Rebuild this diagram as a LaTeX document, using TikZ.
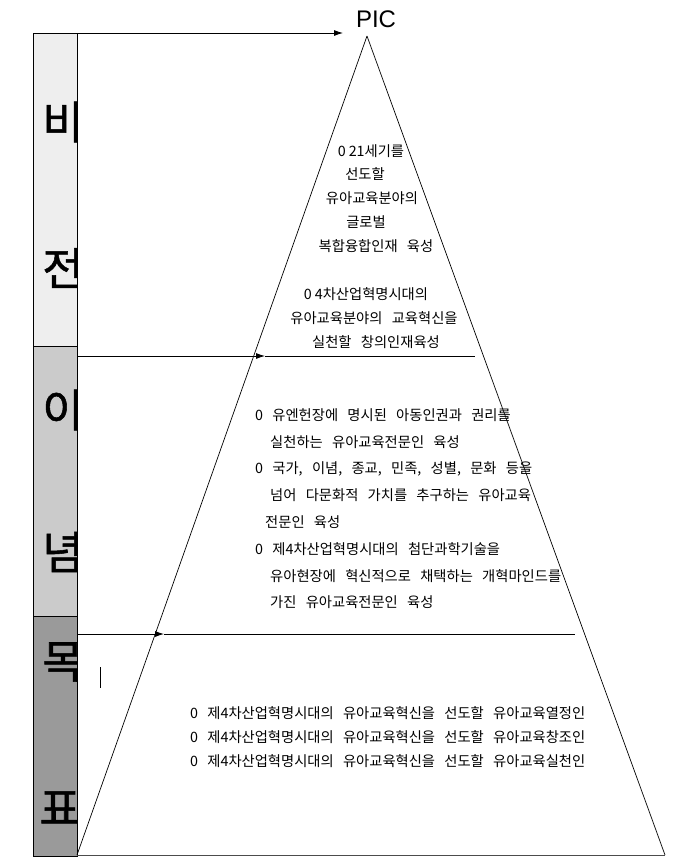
\documentclass[tikz,border=0pt]{standalone}
\usepackage{fontspec}
\setmainfont{Noto Sans CJK KR}[WordSpace={2.9,0,0}]
\newfontfamily\bigfont{Noto Sans CJK KR}[FakeBold=1.2]
\newfontfamily\picfont{Liberation Sans}
\usetikzlibrary{arrows.meta}
\definecolor{visfill}{HTML}{EEEEEE}
\definecolor{idefill}{HTML}{CBCBCB}
\definecolor{goalfill}{HTML}{9A9A9A}
\newcommand{\zgap}{\hspace{3pt}}
\tikzset{
  bigchar/.style={font=\bigfont\fontsize{45}{45}\selectfont, inner sep=0pt},
  txt/.style={font=\fontsize{14.3}{16}\selectfont, inner sep=0pt},
  txtl/.style={txt, anchor=west},
  conn/.style={line width=0.8pt, -{Latex[length=9pt,width=6pt]}},
  plain/.style={line width=0.8pt},
}
\begin{document}
\begin{tikzpicture}[x=1pt,y=-1pt]
\useasboundingbox (0,0) rectangle (686,865);
% left bar
\fill[visfill] (33,33) rectangle (77,346);
\fill[idefill] (33,346) rectangle (77,616);
\fill[goalfill] (33,616) rectangle (77,856);
\begin{scope}
\clip (33,33) rectangle (77,856);
\node[bigchar] (b1) at (63,122) {비};
\node[bigchar] (b2) at (63,268) {전};
\node[bigchar] (b3) at (63,410) {이};
\node[bigchar] (b4) at (63,552) {념};
\node[bigchar] (b5) at (63,662) {목};
\node[bigchar] (b6) at (60,808) {표};
\end{scope}
\draw[plain] (33,33) rectangle (77,856);
\draw[plain] (33,346) -- (77,346);
\draw[plain] (33,616) -- (77,616);
% pyramid
\coordinate (apex) at (367,36);
\coordinate (bl) at (77,855);
\coordinate (br) at (665,855);
\draw[line width=0.7pt] (apex) -- (bl);
\draw[line width=0.7pt] (apex) -- (br);
\draw[line width=0.9pt, black!70] (bl) -- (br);
% PIC
\node[font=\picfont\fontsize{24}{24}\selectfont, inner sep=0pt] (pic) at (376,19) {PIC};
% arrows
\coordinate (a1s) at (77,33);
\coordinate (a1e) at (343,33);
\draw[conn] (a1s) -- (a1e);
\coordinate (a2s) at (77,356);
\coordinate (a2m) at (265,356);
\coordinate (a2e) at (475,356);
\draw[conn] (a2s) -- (a2m);
\draw[plain] (a2m) -- (a2e);
\coordinate (a3s) at (77,634);
\coordinate (a3m) at (164,634);
\coordinate (a3e) at (575,634);
\draw[conn] (a3s) -- (a3m);
\draw[plain] (a3m) -- (a3e);
% small mark
\coordinate (m1) at (100,667);
\coordinate (m2) at (100,688);
\draw[line width=1pt] (m1) -- (m2);
% vision texts
\node[txt] (v1) at (371,151) {0\zgap 21세기를};
\node[txt] (v2) at (365,174) {선도할};
\node[txt] (v3) at (372,198) {유아교육분야의};
\node[txt] (v4) at (366,222) {글로벌};
\node[txt] (v5) at (376,246) {복합융합인재 육성};
\node[txt] (v6) at (366,294) {0\zgap 4차산업혁명시대의};
\node[txt] (v7) at (374,318) {유아교육분야의 교육혁신을};
\node[txt] (v8) at (376,342) {실천할 창의인재육성};
% ideology texts
\node[txtl] (i1) at (255,415) {0 유엔헌장에 명시된 아동인권과 권리를};
\node[txtl] (i2) at (270,442) {실천하는 유아교육전문인 육성};
\node[txtl] (i3) at (255,469) {0 국가, 이념, 종교, 민족, 성별, 문화 등을};
\node[txtl] (i4) at (270,495) {넘어 다문화적 가치를 추구하는 유아교육};
\node[txtl] (i5) at (265,522) {전문인 육성};
\node[txtl] (i6) at (255,549) {0 제4차산업혁명시대의 첨단과학기술을};
\node[txtl] (i7) at (270,576) {유아현장에 혁신적으로 채택하는 개혁마인드를};
\node[txtl] (i8) at (270,602) {가진 유아교육전문인 육성};
% goal texts
\node[txtl] (g1) at (190,713) {0 제4차산업혁명시대의 유아교육혁신을 선도할 유아교육열정인};
\node[txtl] (g2) at (190,737) {0 제4차산업혁명시대의 유아교육혁신을 선도할 유아교육창조인};
\node[txtl] (g3) at (190,761) {0 제4차산업혁명시대의 유아교육혁신을 선도할 유아교육실천인};
\end{tikzpicture}
\end{document}
